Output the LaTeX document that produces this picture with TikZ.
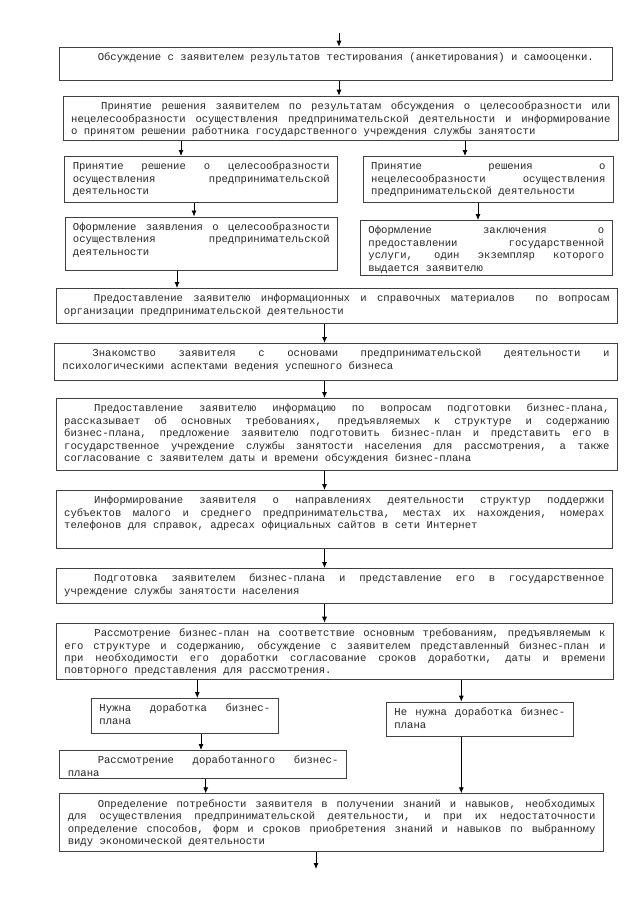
\documentclass[tikz,border=0pt]{standalone}
\usepackage{fontspec}
\newfontfamily\blokfont{Liberation Mono}
\usetikzlibrary{arrows.meta}
\pgfdeclarelayer{edgelayer}
\pgfdeclarelayer{nodelayer}
\pgfsetlayers{edgelayer,nodelayer,main}
\newcommand{\blokshrift}{\blokfont\fontsize{10.6pt}{12.4pt}\selectfont\fontdimen3\font=4pt\fontdimen4\font=1.2pt\relax}
\newcommand{\otstup}{\hspace*{30pt}}
\tolerance=10000
\hyphenpenalty=10000
\tikzstyle{blok}=[rectangle,draw=black!75,line width=0.9pt,anchor=north west,inner xsep=8pt,inner ysep=0pt,align=justify,text height=13.5pt,text=black!85,font=\blokshrift]
\tikzstyle{flow}=[-{Latex[length=6pt,width=5pt]},draw=black,line width=0.8pt]

\begin{document}
\begin{tikzpicture}[x=1pt,y=-1pt]
	\useasboundingbox (0,0) rectangle (640,905);
	\begin{pgfonlayer}{nodelayer}
		\node [style=blok, text width=536.7pt, text depth=19.8pt] (0) at (59.3, 46.7) {\otstup Обсуждение с заявителем результатов тестирования (анкетирования) и самооценки.};
		\node [style=blok, text width=539.3pt, text depth=30.8pt] (1) at (62.7, 95.7) {\parfillskip=0pt\otstup Принятие решения заявителем по результатам обсуждения о целесообразности или \linebreak нецелесообразности осуществления предпринимательской деятельности и информирование \linebreak о принятом решении работника государственного учреждения службы занятости};
		\node [style=blok, text width=257pt, text depth=32.5pt] (2) at (64.3, 156) {Принятие решение о целесообразности \linebreak осуществления предпринимательской \linebreak деятельности};
		\node [style=blok, text width=234.3pt, text depth=32.5pt] (3) at (362.7, 156) {Принятие решения о \linebreak нецелесообразности осуществления \linebreak предпринимательской деятельности};
		\node [style=blok, text width=256.8pt, text depth=40pt] (4) at (64.5, 216.5) {Оформление заявления о целесообразности \linebreak осуществления предпринимательской \linebreak деятельности};
		\node [style=blok, text width=235.7pt, text depth=41.5pt] (5) at (360, 220) {Оформление заключения о \linebreak предоставлении государственной \linebreak услуги, один экземпляр которого \linebreak выдается заявителю};
		\node [style=blok, text width=545.5pt, text depth=21.5pt] (6) at (55.5, 288) {\otstup Предоставление заявителю информационных и справочных материалов~ по вопросам \linebreak организации предпринимательской деятельности};
		\node [style=blok, text width=547pt, text depth=23.5pt] (7) at (54, 343) {\otstup Знакомство заявителя с основами предпринимательской деятельности и \linebreak психологическими аспектами ведения успешного бизнеса};
		\node [style=blok, text width=545.3pt, text depth=58.5pt] (8) at (55.7, 398) {\otstup Предоставление заявителю информацию по вопросам подготовки бизнес-плана, \linebreak рассказывает об основных требованиях, предъявляемых к структуре и содержанию \linebreak бизнес-плана, предложение заявителю подготовить бизнес-план и представить его в \linebreak государственное учреждение службы занятости населения для рассмотрения, а также \linebreak согласование с заявителем даты и времени обсуждения бизнес-плана};
		\node [style=blok, text width=540.3pt, text depth=44.5pt] (9) at (55.7, 490) {\otstup Информирование заявителя о направлениях деятельности структур поддержки \linebreak субъектов малого и среднего предпринимательства, местах их нахождения, номерах \linebreak телефонов для справок, адресах официальных сайтов в сети Интернет};
		\node [style=blok, text width=540.3pt, text depth=21.2pt] (10) at (55.7, 568) {\otstup Подготовка заявителем бизнес-плана и представление его в государственное \linebreak учреждение службы занятости населения};
		\node [style=blok, text width=541pt, text depth=42.5pt] (11) at (56, 622.7) {\otstup Рассмотрение бизнес-план на соответствие основным требованиям, предъявляемым к \linebreak его структуре и содержанию, обсуждение с заявителем представленный бизнес-план и \linebreak при необходимости его доработки согласование сроков доработки, даты и времени \linebreak повторного представления для рассмотрения.};
		\node [style=blok, text width=170.7pt, text depth=21.8pt] (12) at (91, 698) {Нужна доработка бизнес-\linebreak плана};
		\node [style=blok, text width=170.7pt, text depth=20.8pt] (13) at (386, 701.7) {Не нужна доработка бизнес-\linebreak плана};
		\node [style=blok, text width=270.7pt, text depth=14.8pt] (14) at (59.3, 750) {\otstup Рассмотрение доработанного бизнес-\linebreak плана};
		\node [style=blok, text width=527.7pt, text depth=44.5pt] (15) at (59.3, 793.3) {\otstup Определение потребности заявителя в получении знаний и навыков, необходимых \linebreak для осуществления предпринимательской деятельности, и при их недостаточности \linebreak определение способов, форм и сроков приобретения знаний и навыков по выбранному \linebreak виду экономической деятельности};
		\coordinate (16) at (339, 33);
		\coordinate (17) at (316, 869);
		\coordinate (18) at (181, 0);
		\coordinate (19) at (465, 0);
		\coordinate (20) at (194, 0);
		\coordinate (21) at (478, 0);
		\coordinate (22) at (177, 0);
		\coordinate (23) at (324.5, 0);
		\coordinate (24) at (197.3, 0);
		\coordinate (25) at (461.3, 0);
		\coordinate (26) at (201, 0);
		\coordinate (27) at (205.7, 0);
	\end{pgfonlayer}
	\begin{pgfonlayer}{edgelayer}
		\draw [style=flow] (16) to (0.north -| 16);
		\draw [style=flow] (0.south -| 16) to (1.north -| 16);
		\draw [style=flow] (1.south -| 18) to (2.north -| 18);
		\draw [style=flow] (1.south -| 19) to (3.north -| 19);
		\draw [style=flow] (2.south -| 20) to (4.north -| 20);
		\draw [style=flow] (3.south -| 21) to (5.north -| 21);
		\draw [style=flow] (4.south -| 22) to (6.north -| 22);
		\draw [style=flow] (6.south -| 23) to (7.north -| 23);
		\draw [style=flow] (7.south -| 23) to (8.north -| 23);
		\draw [style=flow] (8.south -| 23) to (9.north -| 23);
		\draw [style=flow] (9.south -| 23) to (10.north -| 23);
		\draw [style=flow] (10.south -| 23) to (11.north -| 23);
		\draw [style=flow] (11.south -| 24) to (12.north -| 24);
		\draw [style=flow] (11.south -| 25) to (13.north -| 25);
		\draw [style=flow] (12.south -| 26) to (14.north -| 26);
		\draw [style=flow] (14.south -| 27) to (15.north -| 27);
		\draw [style=flow] (13.south -| 25) to (15.north -| 25);
		\draw [style=flow] (15.south -| 17) to (17);
	\end{pgfonlayer}
\end{tikzpicture}
\end{document}
